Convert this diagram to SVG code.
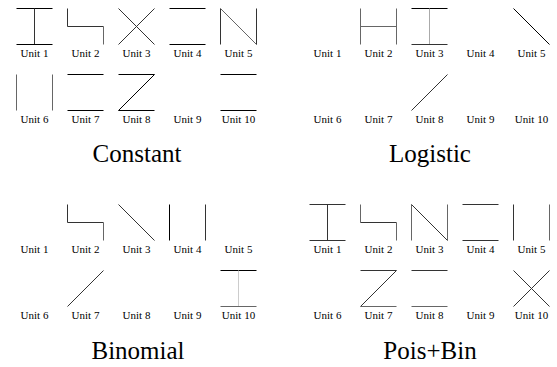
<svg xmlns="http://www.w3.org/2000/svg" width="557" height="367" viewBox="0 0 557 367" font-family="'Liberation Serif', 'DejaVu Serif', serif">
<style>
  line { stroke: #000; stroke-width: 1; fill: none; }
  line.d { stroke: #333; }
  line.g { stroke: #666; }
  line.l { stroke: #aaa; }
  line.xl { stroke: #ccc; }
  text { font-family: 'Liberation Serif', 'DejaVu Serif', serif; fill: #000; }
  text.u { font-size: 11px; text-anchor: middle; }
  text.t { font-size: 25px; text-anchor: middle; }
</style>

<!-- ===== Constant ===== -->
<g id="constant">
  <g id="constant-u1" transform="translate(16.5,8.5)">
    <line x1="0" y1="0" x2="36" y2="0"/><line x1="18" y1="0" x2="18" y2="36" class="d"/><line x1="0" y1="36" x2="36" y2="36"/>
    <text class="u" x="18" y="48">Unit 1</text>
  </g>
  <g id="constant-u2" transform="translate(67.5,8.5)">
    <line x1="0" y1="0" x2="0" y2="18" class="d"/><line x1="0" y1="18" x2="36" y2="18" class="d"/><line x1="36" y1="18" x2="36" y2="36" class="g"/>
    <text class="u" x="18" y="48">Unit 2</text>
  </g>
  <g id="constant-u3" transform="translate(118.5,8.5)">
    <line x1="0" y1="0" x2="36" y2="36" class="d"/><line x1="36" y1="0" x2="0" y2="36" class="d"/>
    <text class="u" x="18" y="48">Unit 3</text>
  </g>
  <g id="constant-u4" transform="translate(169.5,8.5)">
    <line x1="0" y1="0" x2="36" y2="0"/><line x1="0" y1="36" x2="36" y2="36"/>
    <text class="u" x="18" y="48">Unit 4</text>
  </g>
  <g id="constant-u5" transform="translate(220.5,8.5)">
    <line x1="0" y1="0" x2="0" y2="36" class="d"/><line x1="0" y1="0" x2="36" y2="36" class="g"/><line x1="36" y1="0" x2="36" y2="36" class="d"/>
    <text class="u" x="18" y="48">Unit 5</text>
  </g>
  <g id="constant-u6" transform="translate(16.5,74.5)">
    <line x1="0" y1="0" x2="0" y2="36" class="g"/><line x1="36" y1="0" x2="36" y2="36" class="g"/>
    <text class="u" x="18" y="48.5">Unit 6</text>
  </g>
  <g id="constant-u7" transform="translate(67.5,74.5)">
    <line x1="0" y1="0" x2="36" y2="0"/><line x1="0" y1="36" x2="36" y2="36"/>
    <text class="u" x="18" y="48.5">Unit 7</text>
  </g>
  <g id="constant-u8" transform="translate(118.5,74.5)">
    <line x1="0" y1="0" x2="36" y2="0"/><line x1="36" y1="0" x2="0" y2="36"/><line x1="0" y1="36" x2="36" y2="36"/>
    <text class="u" x="18" y="48.5">Unit 8</text>
  </g>
  <g id="constant-u9" transform="translate(169.5,74.5)">
    <text class="u" x="18" y="48.5">Unit 9</text>
  </g>
  <g id="constant-u10" transform="translate(220.5,74.5)">
    <line x1="0" y1="0" x2="36" y2="0"/><line x1="0" y1="36" x2="36" y2="36"/>
    <text class="u" x="18" y="48.5">Unit 10</text>
  </g>
  <text class="t" x="137" y="162">Constant</text>
</g>

<!-- ===== Logistic ===== -->
<g id="logistic">
  <g id="logistic-u1" transform="translate(309.5,8.5)">
    <text class="u" x="18" y="48">Unit 1</text>
  </g>
  <g id="logistic-u2" transform="translate(360.5,8.5)">
    <line x1="0" y1="0" x2="0" y2="36" class="g"/><line x1="0" y1="18" x2="36" y2="18" class="g"/><line x1="36" y1="0" x2="36" y2="36" class="g"/>
    <text class="u" x="18" y="48">Unit 2</text>
  </g>
  <g id="logistic-u3" transform="translate(411.5,8.5)">
    <line x1="0" y1="0" x2="36" y2="0"/><line x1="18" y1="0" x2="18" y2="36" class="l"/><line x1="0" y1="36" x2="36" y2="36" class="d"/>
    <text class="u" x="18" y="48">Unit 3</text>
  </g>
  <g id="logistic-u4" transform="translate(462.5,8.5)">
    <text class="u" x="18" y="48">Unit 4</text>
  </g>
  <g id="logistic-u5" transform="translate(513.5,8.5)">
    <line x1="0" y1="0" x2="36" y2="36"/>
    <text class="u" x="18" y="48">Unit 5</text>
  </g>
  <g id="logistic-u6" transform="translate(309.5,74.5)">
    <text class="u" x="18" y="48.5">Unit 6</text>
  </g>
  <g id="logistic-u7" transform="translate(360.5,74.5)">
    <text class="u" x="18" y="48.5">Unit 7</text>
  </g>
  <g id="logistic-u8" transform="translate(411.5,74.5)">
    <line x1="36" y1="0" x2="0" y2="36" class="d"/>
    <text class="u" x="18" y="48.5">Unit 8</text>
  </g>
  <g id="logistic-u9" transform="translate(462.5,74.5)">
    <text class="u" x="18" y="48.5">Unit 9</text>
  </g>
  <g id="logistic-u10" transform="translate(513.5,74.5)">
    <text class="u" x="18" y="48.5">Unit 10</text>
  </g>
  <text class="t" x="430" y="162">Logistic</text>
</g>

<!-- ===== Binomial ===== -->
<g id="binomial">
  <g id="binomial-u1" transform="translate(16.5,204.5)">
    <text class="u" x="18" y="48">Unit 1</text>
  </g>
  <g id="binomial-u2" transform="translate(67.5,204.5)">
    <line x1="0" y1="0" x2="0" y2="18" class="d"/><line x1="0" y1="18" x2="36" y2="18" class="d"/><line x1="36" y1="18" x2="36" y2="36" class="g"/>
    <text class="u" x="18" y="48">Unit 2</text>
  </g>
  <g id="binomial-u3" transform="translate(118.5,204.5)">
    <line x1="0" y1="0" x2="36" y2="36" class="d"/>
    <text class="u" x="18" y="48">Unit 3</text>
  </g>
  <g id="binomial-u4" transform="translate(169.5,204.5)">
    <line x1="0" y1="0" x2="0" y2="36"/><line x1="36" y1="0" x2="36" y2="36" class="d"/>
    <text class="u" x="18" y="48">Unit 4</text>
  </g>
  <g id="binomial-u5" transform="translate(220.5,204.5)">
    <text class="u" x="18" y="48">Unit 5</text>
  </g>
  <g id="binomial-u6" transform="translate(16.5,270.5)">
    <text class="u" x="18" y="48.5">Unit 6</text>
  </g>
  <g id="binomial-u7" transform="translate(67.5,270.5)">
    <line x1="36" y1="0" x2="0" y2="36" class="d"/>
    <text class="u" x="18" y="48.5">Unit 7</text>
  </g>
  <g id="binomial-u8" transform="translate(118.5,270.5)">
    <text class="u" x="18" y="48.5">Unit 8</text>
  </g>
  <g id="binomial-u9" transform="translate(169.5,270.5)">
    <text class="u" x="18" y="48.5">Unit 9</text>
  </g>
  <g id="binomial-u10" transform="translate(220.5,270.5)">
    <line x1="0" y1="0" x2="36" y2="0"/><line x1="18" y1="0" x2="18" y2="36" class="xl"/><line x1="0" y1="36" x2="36" y2="36" class="g"/>
    <text class="u" x="18" y="48.5">Unit 10</text>
  </g>
  <text class="t" x="138" y="359">Binomial</text>
</g>

<!-- ===== Pois+Bin ===== -->
<g id="poisbin">
  <g id="poisbin-u1" transform="translate(309.5,204.5)">
    <line x1="0" y1="0" x2="36" y2="0" class="d"/><line x1="18" y1="0" x2="18" y2="36" class="d"/><line x1="0" y1="36" x2="36" y2="36" class="d"/>
    <text class="u" x="18" y="48">Unit 1</text>
  </g>
  <g id="poisbin-u2" transform="translate(360.5,204.5)">
    <line x1="0" y1="0" x2="0" y2="18" class="g"/><line x1="0" y1="18" x2="36" y2="18" class="d"/><line x1="36" y1="18" x2="36" y2="36" class="g"/>
    <text class="u" x="18" y="48">Unit 2</text>
  </g>
  <g id="poisbin-u3" transform="translate(411.5,204.5)">
    <line x1="0" y1="0" x2="0" y2="36" class="g"/><line x1="0" y1="0" x2="36" y2="36" class="d"/><line x1="36" y1="0" x2="36" y2="36" class="g"/>
    <text class="u" x="18" y="48">Unit 3</text>
  </g>
  <g id="poisbin-u4" transform="translate(462.5,204.5)">
    <line x1="0" y1="0" x2="36" y2="0" class="d"/><line x1="0" y1="36" x2="36" y2="36" class="d"/>
    <text class="u" x="18" y="48">Unit 4</text>
  </g>
  <g id="poisbin-u5" transform="translate(513.5,204.5)">
    <line x1="0" y1="0" x2="0" y2="36" class="d"/><line x1="36" y1="0" x2="36" y2="36" class="g"/>
    <text class="u" x="18" y="48">Unit 5</text>
  </g>
  <g id="poisbin-u6" transform="translate(309.5,270.5)">
    <text class="u" x="18" y="48.5">Unit 6</text>
  </g>
  <g id="poisbin-u7" transform="translate(360.5,270.5)">
    <line x1="0" y1="0" x2="36" y2="0" class="d"/><line x1="36" y1="0" x2="0" y2="36" class="d"/><line x1="0" y1="36" x2="36" y2="36" class="g"/>
    <text class="u" x="18" y="48.5">Unit 7</text>
  </g>
  <g id="poisbin-u8" transform="translate(411.5,270.5)">
    <line x1="0" y1="0" x2="36" y2="0" class="d"/><line x1="0" y1="36" x2="36" y2="36" class="g"/>
    <text class="u" x="18" y="48.5">Unit 8</text>
  </g>
  <g id="poisbin-u9" transform="translate(462.5,270.5)">
    <text class="u" x="18" y="48.5">Unit 9</text>
  </g>
  <g id="poisbin-u10" transform="translate(513.5,270.5)">
    <line x1="0" y1="0" x2="36" y2="36" class="d"/><line x1="36" y1="0" x2="0" y2="36" class="d"/>
    <text class="u" x="18" y="48.5">Unit 10</text>
  </g>
  <text class="t" x="430" y="359">Pois+Bin</text>
</g>
<g id="connectors"/>
</svg>
